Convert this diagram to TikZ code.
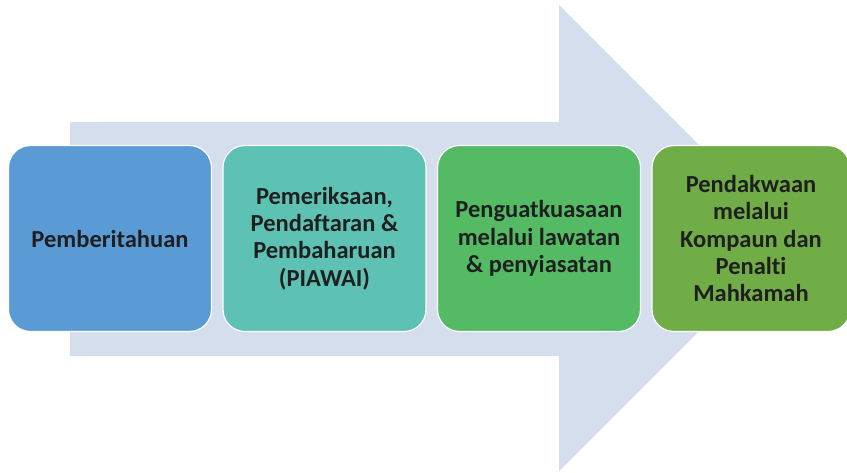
\documentclass[tikz,border=0pt]{standalone}
\usepackage{fontspec}
\setmainfont{Carlito}[Ligatures={NoCommon}]
\begin{document}
\begin{tikzpicture}[x=1pt,y=-1pt,
  stagebox/.style={draw=white, line width=1.2pt, rounded corners=22pt,
    minimum width=203pt, minimum height=186pt, align=center,
    text=black!88, font=\bfseries\fontsize{24.5}{27.3}\selectfont, inner sep=0pt},
  flow/.style={fill=arrowfill, draw=none}]
\definecolor{arrowfill}{HTML}{D5DEEC}
\definecolor{boxA}{HTML}{5B9BD5}
\definecolor{boxB}{HTML}{5DC2B3}
\definecolor{boxC}{HTML}{54BA64}
\definecolor{boxD}{HTML}{70AD47}
\useasboundingbox (0,0) rectangle (847,472);
% large block arrow behind the stages
\fill[arrowfill] (70,122) -- (559,122) -- (559,5) -- (792,238) -- (559,471)
  -- (559,356) -- (70,356) -- cycle;
% the four stages
\node[stagebox, fill=boxA] (s1) at (110,238.5) {Pemberitahuan};
\node[stagebox, fill=boxB] (s2) at (324.5,238.5) {Pemeriksaan,\\Pendaftaran \&\\Pembaharuan\\(PIAWAI)};
\node[stagebox, fill=boxC] (s3) at (539,238.5) {Penguatkuasaan\\melalui lawatan\\\& penyiasatan};
\node[stagebox, fill=boxD, minimum width=198pt] (s4) at (751,238.5) {Pendakwaan\\melalui\\Kompaun dan\\Penalti\\Mahkamah};
\end{tikzpicture}
\end{document}
